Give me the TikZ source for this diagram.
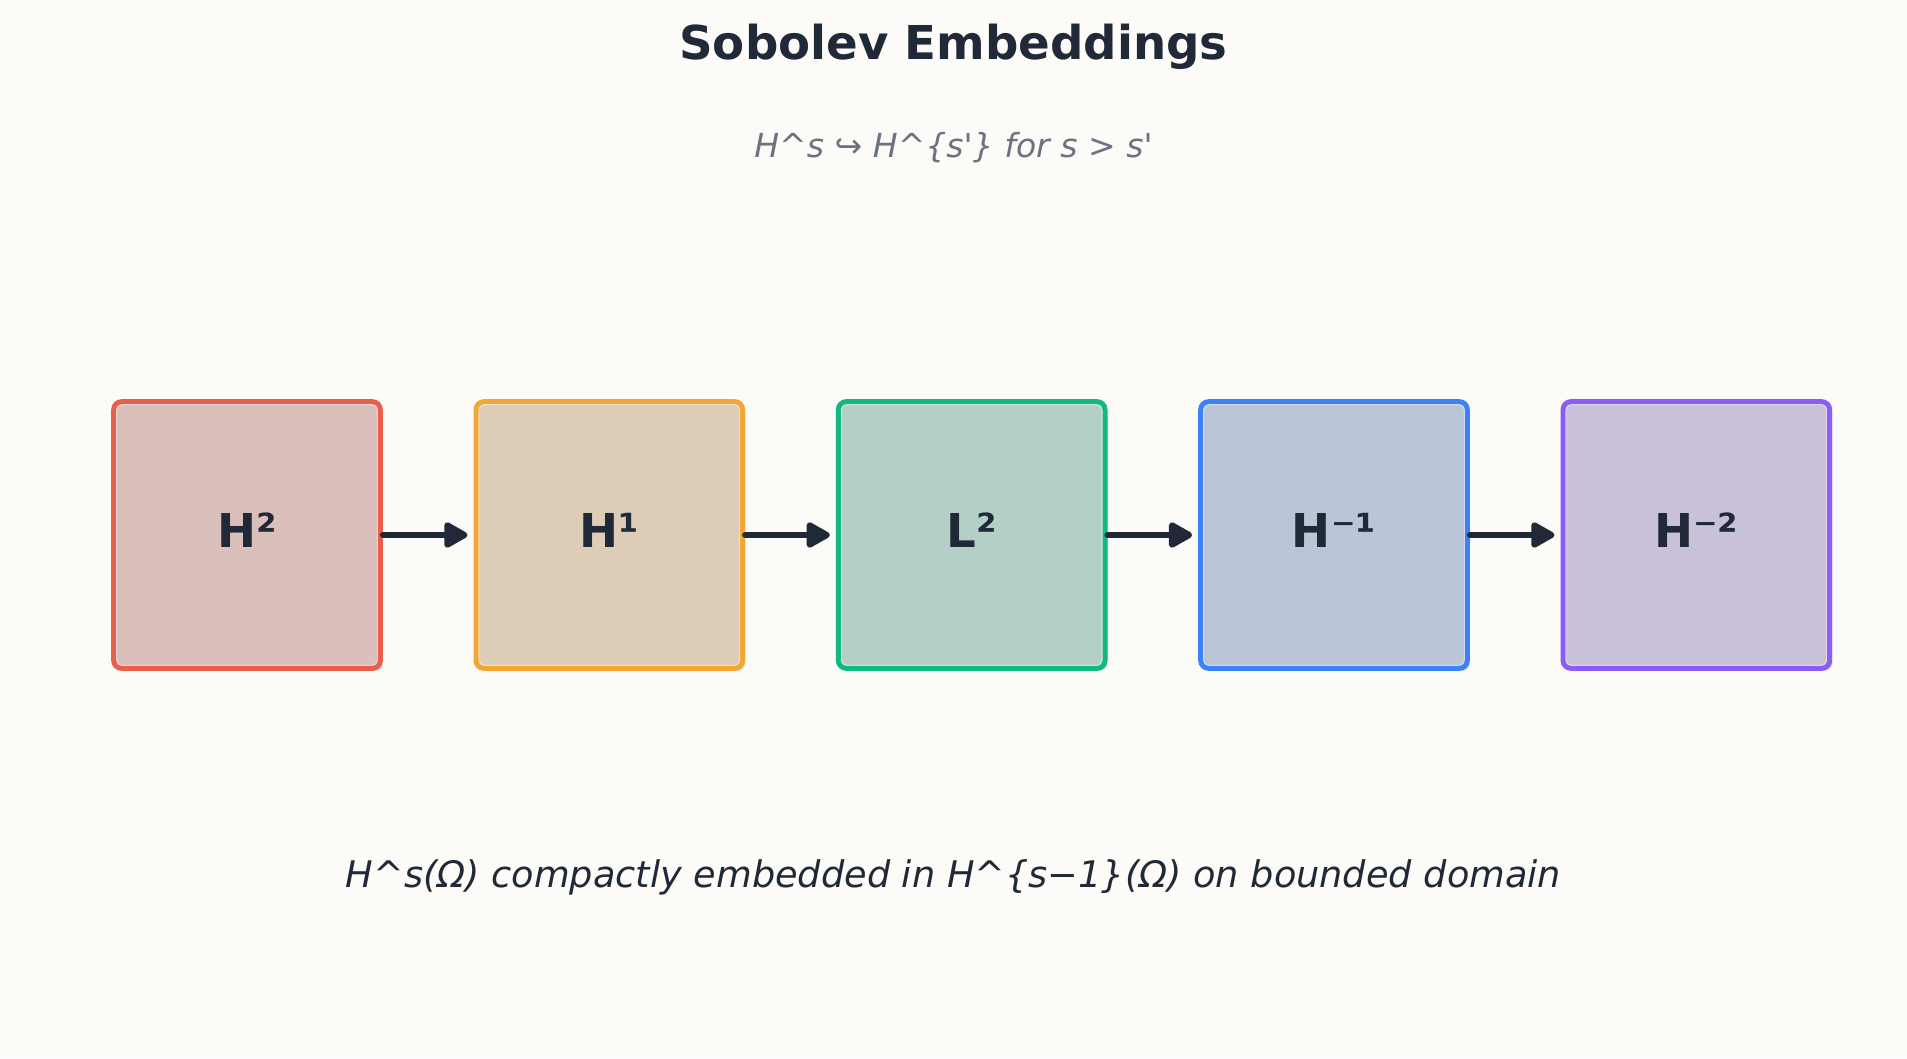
\documentclass[tikz,border=0pt]{standalone}
\usepackage{fontspec}
\setmainfont{DejaVu Sans}
\usetikzlibrary{positioning,shadows,arrows.meta}
\definecolor{bgpaper}{RGB}{252,251,247}
\definecolor{ink}{RGB}{31,41,55}
\definecolor{mute}{RGB}{107,114,128}
\definecolor{linered}{RGB}{232,96,76}
\definecolor{fillred}{RGB}{219,191,187}
\definecolor{lineorange}{RGB}{244,166,52}
\definecolor{fillorange}{RGB}{221,205,182}
\definecolor{linegreen}{RGB}{16,185,129}
\definecolor{fillgreen}{RGB}{180,208,198}
\definecolor{lineblue}{RGB}{59,130,246}
\definecolor{fillblue}{RGB}{186,198,216}
\definecolor{linepurple}{RGB}{139,92,246}
\definecolor{fillpurple}{RGB}{201,193,217}
\tikzstyle{space} = [draw, rectangle, rounded corners=6pt, line width=3.75pt, minimum width=200pt, minimum height=200pt, text=ink, text depth=7pt, font=\fontsize{35}{42}\selectfont\bfseries, drop shadow={shadow xshift=2pt, shadow yshift=-2pt, opacity=0.12, fill=black}]
\tikzstyle{line} = [draw, ink, line width=4.5pt, line cap=round, -{Triangle[length=20pt,width=21pt,round]}, shorten >=4.5pt]

\begin{document}
\begin{tikzpicture}[x=0.75pt, y=-0.75pt, node distance=68pt]
    \useasboundingbox[fill=bgpaper] (0,0) rectangle (1907,1058);

    % Place nodes
    \node [anchor=base, text=ink, font=\fontsize{35}{42}\selectfont\bfseries] (title) at (953.5,59) {Sobolev Embeddings};
    \node [anchor=base, text=mute, font=\fontsize{24.8}{30}\selectfont\itshape] (subtitle) at (953.5,157) {H\textasciicircum s ↪ H\textasciicircum\{s\textquotesingle\} for s > s\textquotesingle};
    \node [space, draw=linered, fill=fillred] (h2) at (247,535) {H²};
    \node [space, draw=lineorange, fill=fillorange, right=of h2] (h1) {H¹};
    \node [space, draw=linegreen, fill=fillgreen, right=of h1] (l2) {L²};
    \node [space, draw=lineblue, fill=fillblue, right=of l2] (hm1) {H⁻¹};
    \node [space, draw=linepurple, fill=fillpurple, right=of hm1] (hm2) {H⁻²};
    \node [anchor=base, text=ink, font=\fontsize{27.5}{34}\selectfont\itshape] (note) at (953.5,887) {H\textasciicircum s(Ω) compactly embedded in H\textasciicircum\{s−1\}(Ω) on bounded domain};

    % light inner rim
    \foreach \n in {h2,h1,l2,hm1,hm2}
      \draw [white, opacity=0.45, line width=0.75pt, rounded corners=4pt] ([xshift=4.1pt,yshift=4.1pt]\n.south west) rectangle ([xshift=-4.1pt,yshift=-4.1pt]\n.north east);

    % Draw edges
    \path [line] (h2) -- (h1);
    \path [line] (h1) -- (l2);
    \path [line] (l2) -- (hm1);
    \path [line] (hm1) -- (hm2);
\end{tikzpicture}
\end{document}
